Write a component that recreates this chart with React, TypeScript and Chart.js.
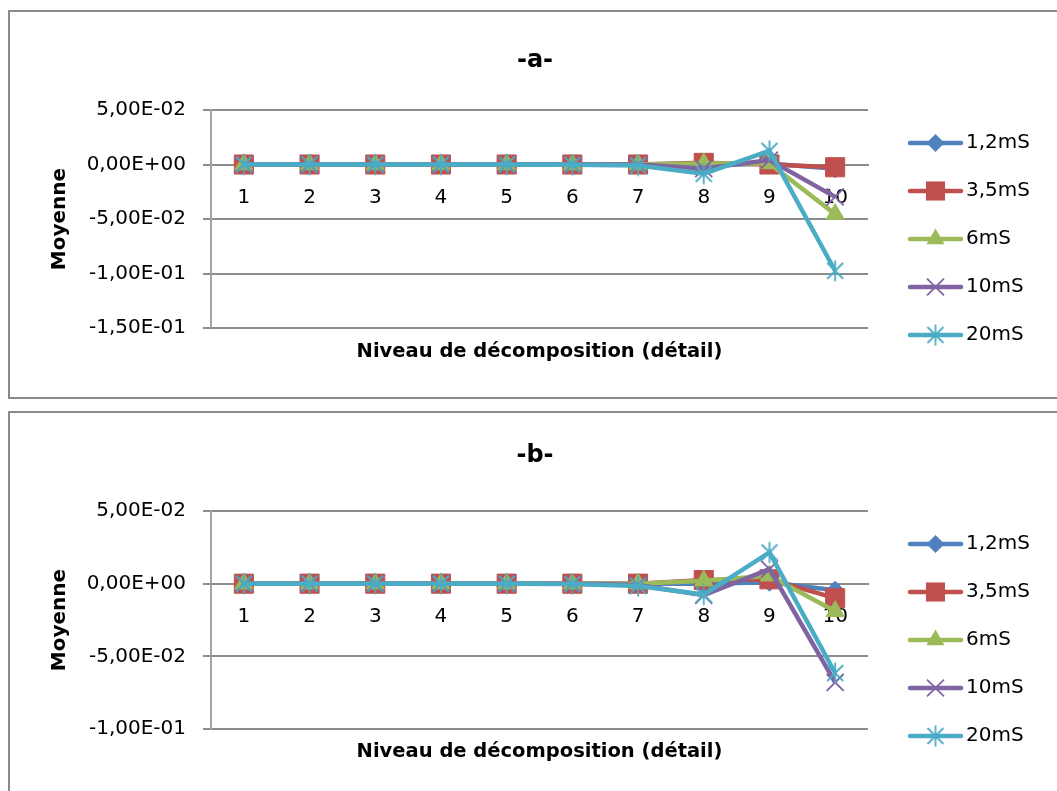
import React, { useEffect, useRef } from 'react';
import { Chart, registerables } from 'chart.js';

Chart.register(...registerables);

// Decomposition levels (detail coefficients)
const levels = ['1', '2', '3', '4', '5', '6', '7', '8', '9', '10'];

const seriesNames = ['1,2mS', '3,5mS', '6mS', '10mS', '20mS'];
const seriesColors = ['#4F81BD', '#C0504D', '#9BBB59', '#8064A2', '#4BACC6'];

// Panel -a- : mean of the detail coefficients
const meanA_1_2 = [0, 0, 0, 0, 0, 0, 0, -0.001, 0.001, -0.004];
const meanA_3_5 = [0, 0, 0, 0, 0, 0, 0, 0.0015, 0, -0.0025];
const meanA_6 = [0, 0, 0, 0, 0, 0, 0, 0.001, 0.001, -0.0455];
const meanA_10 = [0, 0, 0, 0, 0, 0, 0, -0.0037, 0.004, -0.0297];
const meanA_20 = [0, 0, 0, 0, 0, -0.0002, -0.0009, -0.0085, 0.0125, -0.0975];

// Panel -b-
const meanB_1_2 = [0, 0, 0, 0, 0, 0, 0, 0, 0.001, -0.0045];
const meanB_3_5 = [0, 0, 0, 0, 0, 0, 0, 0.0025, 0.003, -0.01];
const meanB_6 = [0, 0, 0, 0, 0, 0, 0, 0.002, 0.0055, -0.019];
const meanB_10 = [0, 0, 0, 0, 0, 0, -0.001, -0.008, 0.01, -0.068];
const meanB_20 = [0, 0, 0, 0, 0, -0.0003, -0.0016, -0.0075, 0.0215, -0.0615];

const yMaxA = 0.05;
const yMinA = -0.15;
const yMaxB = 0.05;
const yMinB = -0.1;
const yStep = 0.05;

const FONT = '"DejaVu Sans"';
const GRID = '#8c8c8c';
const AXIS = '#a3a3a3';

const CANVAS_W = 1056;
const CANVAS_H = 385;
const AREA = { left: 201, right: 858, top: 98, bottom: 316 };

// "5,00E-02" style labels
function sci(v: number): string {
  const x = Math.abs(v) < 1e-12 ? 0 : v;
  const [m, e] = x.toExponential(2).split('e');
  const exp = parseInt(e, 10);
  return m.replace('.', ',') + 'E' + (exp < 0 ? '-' : '+') + String(Math.abs(exp)).padStart(2, '0');
}

// Asterisk marker: an X crossed by a vertical stroke
function makeAsterisk(color: string): HTMLCanvasElement {
  const size = 24;
  const c = document.createElement('canvas');
  c.width = size;
  c.height = size;
  const g = c.getContext('2d')!;
  const m = size / 2;
  const h = 8;
  const r = 10.5;
  g.strokeStyle = color;
  g.lineWidth = 1.8;
  g.beginPath();
  g.moveTo(m - h, m - h);
  g.lineTo(m + h, m + h);
  g.moveTo(m + h, m - h);
  g.lineTo(m - h, m + h);
  g.moveTo(m, m - r);
  g.lineTo(m, m + r);
  g.stroke();
  return c;
}

type MarkerSpec = { style: any; radius: number; border: number };

function markerSpecs(): MarkerSpec[] {
  return [
    { style: 'rectRot', radius: 9, border: 1 },
    { style: 'rect', radius: 13.5, border: 1 },
    { style: 'triangle', radius: 10.5, border: 1 },
    { style: 'crossRot', radius: 12, border: 1.8 },
    { style: makeAsterisk(seriesColors[4]), radius: 11, border: 0 },
  ];
}

function drawLegendMarker(ctx: CanvasRenderingContext2D, i: number, x: number, y: number, spec: MarkerSpec) {
  const color = seriesColors[i];
  ctx.save();
  ctx.fillStyle = color;
  ctx.strokeStyle = color;
  ctx.lineWidth = spec.border || 1;
  ctx.beginPath();
  if (i === 0) {
    const r = spec.radius;
    ctx.moveTo(x, y - r);
    ctx.lineTo(x + r, y);
    ctx.lineTo(x, y + r);
    ctx.lineTo(x - r, y);
    ctx.closePath();
    ctx.fill();
  } else if (i === 1) {
    const s = spec.radius * Math.SQRT1_2;
    ctx.rect(x - s, y - s, 2 * s, 2 * s);
    ctx.fill();
  } else if (i === 2) {
    const r = spec.radius;
    const hw = r * Math.sin(Math.PI / 3);
    ctx.moveTo(x, y - r);
    ctx.lineTo(x + hw, y + r / 2);
    ctx.lineTo(x - hw, y + r / 2);
    ctx.closePath();
    ctx.fill();
  } else if (i === 3) {
    const d = spec.radius * Math.SQRT1_2;
    ctx.moveTo(x - d, y - d);
    ctx.lineTo(x + d, y + d);
    ctx.moveTo(x + d, y - d);
    ctx.lineTo(x - d, y + d);
    ctx.stroke();
  } else {
    const img = spec.style as HTMLCanvasElement;
    ctx.drawImage(img, x - img.width / 2, y - img.height / 2);
  }
  ctx.restore();
}

type PanelProps = {
  title: string;
  series: number[][];
  yMin: number;
  yMax: number;
  titleBaseline: number;
  xTitleBaseline: number;
};

function Panel({ title, series, yMin, yMax, titleBaseline, xTitleBaseline }: PanelProps) {
  const ref = useRef<HTMLCanvasElement | null>(null);

  useEffect(() => {
    const canvas = ref.current;
    if (!canvas) return;
    const specs = markerSpecs();

    const framePlugin = {
      id: 'frameText',
      afterDraw(chart: any) {
        const ctx: CanvasRenderingContext2D = chart.ctx;
        const area = chart.chartArea;
        ctx.save();
        ctx.fillStyle = '#000';
        ctx.textAlign = 'center';
        ctx.textBaseline = 'alphabetic';
        ctx.font = `bold 24px ${FONT}`;
        ctx.fillText(title, 525, titleBaseline);
        ctx.font = `bold 19.5px ${FONT}`;
        ctx.fillText('Niveau de décomposition (détail)', (area.left + area.right) / 2, xTitleBaseline);

        // legend: line with centred marker, then the series name
        seriesNames.forEach((name, i) => {
          const y = 131 + i * 48;
          ctx.save();
          ctx.strokeStyle = seriesColors[i];
          ctx.lineWidth = 4.5;
          ctx.lineCap = 'round';
          ctx.beginPath();
          ctx.moveTo(900, y);
          ctx.lineTo(951, y);
          ctx.stroke();
          ctx.restore();
          drawLegendMarker(ctx, i, 925.5, y, specs[i]);
          ctx.fillStyle = '#000';
          ctx.textAlign = 'left';
          ctx.textBaseline = 'middle';
          ctx.font = `20px ${FONT}`;
          ctx.fillText(name, 956, y);
        });
        ctx.restore();
      },
    };

    const chart = new Chart(canvas, {
      type: 'line',
      data: {
        labels: levels,
        datasets: series.map((values, i) => ({
          label: seriesNames[i],
          data: values,
          borderColor: seriesColors[i],
          backgroundColor: seriesColors[i],
          borderWidth: 4.5,
          tension: 0,
          fill: false,
          order: series.length - i,
          pointStyle: specs[i].style,
          pointRadius: specs[i].radius,
          pointBorderWidth: specs[i].border,
          pointBackgroundColor: seriesColors[i],
          pointBorderColor: seriesColors[i],
        })),
      },
      options: {
        responsive: false,
        animation: false,
        events: [],
        layout: {
          padding: {
            left: 0,
            top: AREA.top,
            right: CANVAS_W - AREA.right,
            bottom: CANVAS_H - AREA.bottom,
          },
        },
        plugins: {
          legend: { display: false },
          tooltip: { enabled: false },
          title: { display: false },
        },
        scales: {
          x: {
            type: 'category',
            position: { y: 0 },
            offset: true,
            grid: { display: false, drawTicks: false },
            border: { display: true, color: GRID, width: 2 },
            ticks: {
              color: '#000',
              font: { family: FONT, size: 20 },
              padding: 21,
              maxRotation: 0,
              autoSkip: false,
            },
          },
          y: {
            type: 'linear',
            min: yMin,
            max: yMax,
            ticks: {
              stepSize: yStep,
              color: '#000',
              font: { family: FONT, size: 20 },
              padding: 17,
              callback: (v: any) => sci(Number(v)),
            },
            grid: { color: GRID, lineWidth: 2, tickLength: 8, drawTicks: true },
            border: { display: true, color: AXIS, width: 2 },
            title: {
              display: true,
              text: 'Moyenne',
              color: '#000',
              font: { family: FONT, size: 20, weight: 'bold' },
              padding: { top: 38, bottom: 0 },
            },
            afterFit: (scale: any) => {
              scale.width = AREA.left;
            },
          },
        },
      } as any,
      plugins: [framePlugin],
    });

    return () => chart.destroy();
  }, [title, series, yMin, yMax, titleBaseline, xTitleBaseline]);

  return (
    <canvas
      ref={ref}
      width={CANVAS_W}
      height={CANVAS_H}
      style={{ display: 'block', width: CANVAS_W, height: CANVAS_H, maxWidth: 'none' }}
    />
  );
}

// Frame open on the right: it runs past the page edge
const boxStyle: React.CSSProperties = {
  position: 'absolute',
  left: 8,
  width: CANVAS_W,
  height: CANVAS_H,
  borderTop: '2px solid #8a8a8a',
  borderLeft: '2px solid #8a8a8a',
  borderBottom: '2px solid #8a8a8a',
  background: '#fff',
};

const seriesA = [meanA_1_2, meanA_3_5, meanA_6, meanA_10, meanA_20];
const seriesB = [meanB_1_2, meanB_3_5, meanB_6, meanB_10, meanB_20];

export default function App() {
  return (
    <div
      style={{
        position: 'fixed',
        left: 0,
        top: 0,
        width: '100vw',
        height: '100vh',
        overflow: 'hidden',
        background: '#fff',
      }}
    >
      <div style={{ ...boxStyle, top: 10 }}>
        <Panel title="-a-" series={seriesA} yMin={yMinA} yMax={yMaxA} titleBaseline={55} xTitleBaseline={345} />
      </div>
      <div style={{ ...boxStyle, top: 411 }}>
        <Panel title="-b-" series={seriesB} yMin={yMinB} yMax={yMaxB} titleBaseline={49} xTitleBaseline={344} />
      </div>
    </div>
  );
}
